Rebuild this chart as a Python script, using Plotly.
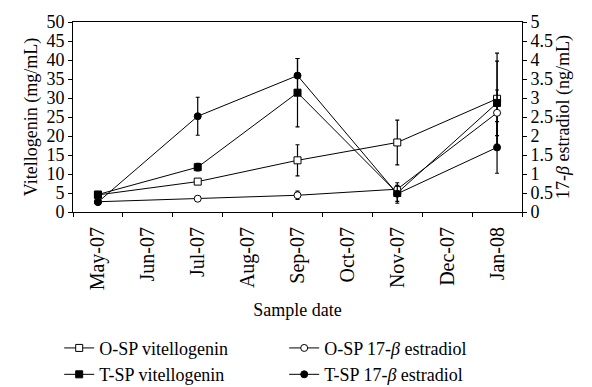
import plotly.graph_objects as go

months = ["May-07", "Jun-07", "Jul-07", "Aug-07", "Sep-07", "Oct-07", "Nov-07", "Dec-07", "Jan-08"]
sample_dates = ["May-07", "Jul-07", "Sep-07", "Nov-07", "Jan-08"]

osp_vtg = [4.5, 8.0, 13.6, 18.3, 29.8]
osp_vtg_err = [0.3, 0.5, 4.1, 5.9, 12.0]
tsp_vtg = [4.6, 11.8, 31.4, 5.0, 28.7]
tsp_vtg_err = [0.3, 1.0, 9.0, 2.7, 11.0]
osp_e2 = [0.27, 0.35, 0.44, 0.60, 2.61]
osp_e2_err = [0.03, 0.03, 0.11, 0.1, 0.6]
tsp_e2 = [0.26, 2.52, 3.59, 0.48, 1.70]
tsp_e2_err = [0.03, 0.5, 0.45, 0.2, 0.68]

FONT = "Liberation Serif"
FS = 18

fig = go.Figure()

def add(name, x, y, err, yaxis, symbol, fill):
    fig.add_trace(go.Scatter(
        x=x, y=y, name=name, yaxis=yaxis, mode="lines+markers",
        line=dict(color="black", width=1),
        marker=dict(symbol=symbol, size=7, color=fill, line=dict(color="black", width=1)),
        error_y=dict(type="data", array=err, visible=True, color="black", thickness=1.2, width=2),
    ))

add("O-SP vitellogenin", sample_dates, osp_vtg, osp_vtg_err, "y", "square", "white")
add("O-SP 17-<i>β</i> estradiol", sample_dates, osp_e2, osp_e2_err, "y2", "circle", "white")
add("T-SP vitellogenin", sample_dates, tsp_vtg, tsp_vtg_err, "y", "square", "black")
add("T-SP 17-<i>β</i> estradiol", sample_dates, tsp_e2, tsp_e2_err, "y2", "circle", "black")

axis_common = dict(showline=True, linecolor="black", linewidth=1, ticks="outside",
                   ticklen=4, tickcolor="black", showgrid=False, zeroline=False)

fig.update_layout(
    width=592, height=387,
    margin=dict(l=73, r=70, t=15, b=175),
    paper_bgcolor="white", plot_bgcolor="white",
    font=dict(family=FONT, size=FS, color="black"),
    xaxis=dict(type="category", categoryorder="array", categoryarray=months,
               range=[-0.5, 8.5], tickson="boundaries", tickangle=-90,
               mirror=True, ticklabelstandoff=6,
               tickfont=dict(family=FONT, size=20, color="black"),
               title=dict(text="Sample date", font=dict(family=FONT, size=FS), standoff=14),
               **axis_common),
    yaxis=dict(range=[0, 50], dtick=5, mirror=False,
               tickfont=dict(family=FONT, size=FS, color="black"),
               title=dict(text="Vitellogenin (mg/mL)", font=dict(family=FONT, size=FS), standoff=4),
               **axis_common),
    yaxis2=dict(range=[0, 5], dtick=0.5, overlaying="y", side="right",
                tickfont=dict(family=FONT, size=FS, color="black"),
                title=dict(text="17-<i>β</i> estradiol (ng/mL)", font=dict(family=FONT, size=FS), standoff=4),
                **axis_common),
    legend=dict(orientation="h", xref="container", yref="container", x=0.1, xanchor="left",
                y=0.148, yanchor="top", entrywidth=180, traceorder="normal",
                font=dict(family=FONT, size=FS), tracegroupgap=0, itemwidth=30),
    showlegend=True,
)

fig.write_html("out.html")
